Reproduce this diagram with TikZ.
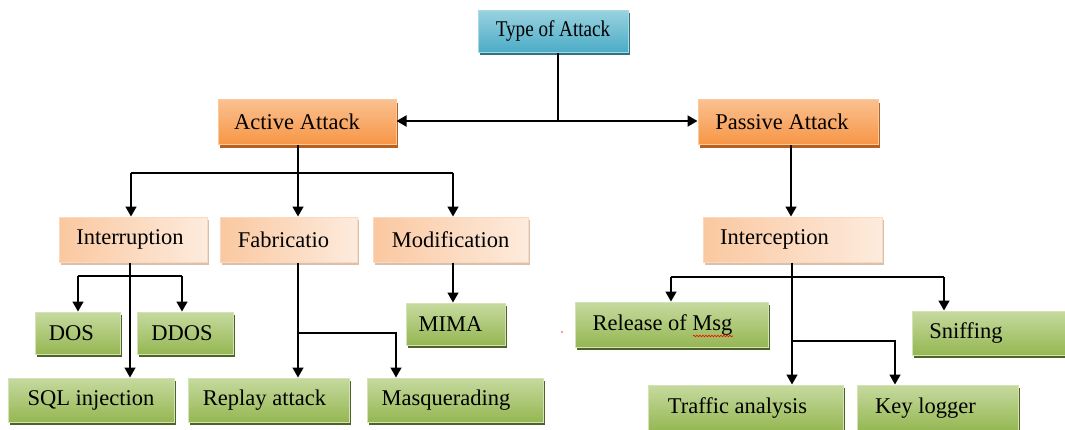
\documentclass[tikz,border=0pt]{standalone}
\usepackage{fontspec}
\setmainfont{Liberation Serif}
\usetikzlibrary{arrows.meta,shadows,decorations.pathmorphing}

\definecolor{tealtop}{HTML}{9AD2E0}
\definecolor{tealbot}{HTML}{4BACC6}
\definecolor{tealline}{HTML}{A9D8E4}
\definecolor{tealshadow}{HTML}{2E7385}
\definecolor{orgtop}{HTML}{FAC090}
\definecolor{orgbot}{HTML}{F79646}
\definecolor{orgline}{HTML}{FBC9A0}
\definecolor{orgshadow}{HTML}{B8601E}
\definecolor{peachA}{HTML}{FAC8A0}
\definecolor{peachB}{HTML}{FDEBDD}
\definecolor{peachline}{HTML}{FBD9BF}
\definecolor{peachshadow}{HTML}{D8C0AC}
\definecolor{grntop}{HTML}{C6DA9F}
\definecolor{grnbot}{HTML}{95B752}
\definecolor{grnline}{HTML}{D3E3B6}
\definecolor{grnshadow}{HTML}{4F6228}

\tikzset{
  box/.style={rectangle, inner sep=0pt, line width=1pt},
  tealbox/.style={box, top color=tealtop, bottom color=tealbot, draw=tealline,
    drop shadow={shadow xshift=1.5pt, shadow yshift=-3pt, fill=tealshadow, opacity=1}},
  orangebox/.style={box, top color=orgtop, bottom color=orgbot, draw=orgline,
    drop shadow={shadow xshift=1.5pt, shadow yshift=-3pt, fill=orgshadow, opacity=1}},
  peachbox/.style={box, left color=peachA, right color=peachB, draw=peachline,
    drop shadow={shadow xshift=2pt, shadow yshift=-3pt, fill=peachshadow, opacity=1}},
  greenbox/.style={box, top color=grntop, bottom color=grnbot, draw=grnline,
    drop shadow={shadow xshift=2pt, shadow yshift=-3pt, fill=grnshadow, opacity=1}},
  link/.style={line width=1.6pt, black},
  biglink/.style={line width=2pt, black},
  arr/.style={link, -{Triangle[length=10pt,width=11pt]}},
  bigarr/.style={biglink, -{Triangle[length=10pt,width=11pt]}},
}

\begin{document}
\begin{tikzpicture}[x=1pt, y=-1pt, font=\fontsize{22.5}{26}\selectfont]
\useasboundingbox (0,0) rectangle (1065,429);

% ---- root
\node[tealbox, minimum width=150pt, minimum height=42pt,
      label={center:\scalebox{0.85}[1]{Type of Attack}}] (top) at (553,31) {};

% ---- second level
\node[orangebox, minimum width=178pt, minimum height=45pt,
      label={[xshift=-10pt]center:Active Attack}] (act) at (307,122) {};
\node[orangebox, minimum width=180pt, minimum height=45pt,
      label={[xshift=-6pt]center:Passive Attack}] (pas) at (788,122) {};

% ---- third level
\node[peachbox, minimum width=148pt, minimum height=45pt,
      label={[xshift=-3pt]center:Interruption}] (intr) at (133,239.5) {};
\node[peachbox, minimum width=137pt, minimum height=45pt,
      label={[xshift=-5pt]center:Fabricatio}] (fab) at (288.5,239.5) {};
\node[peachbox, minimum width=155pt, minimum height=45pt,
      label={center:Modification}] (mod) at (450.5,239.5) {};
\node[peachbox, minimum width=179pt, minimum height=45pt,
      label={[xshift=-18pt]center:Interception}] (icp) at (792.5,239.5) {};

% ---- leaves, active side
\node[greenbox, minimum width=85pt, minimum height=42pt,
      label={[xshift=-6pt]center:DOS}] (dos) at (77.5,333) {};
\node[greenbox, minimum width=96pt, minimum height=42pt,
      label={[xshift=-3pt]center:DDOS}] (ddos) at (185,333) {};
\node[greenbox, minimum width=166pt, minimum height=44pt,
      label={center:SQL injection}] (sql) at (91,400) {};
\node[greenbox, minimum width=161pt, minimum height=44pt,
      label={[xshift=-4pt]center:Replay attack}] (rep) at (268.5,400) {};
\node[greenbox, minimum width=176pt, minimum height=44pt,
      label={[xshift=-9pt]center:Masquerading}] (mas) at (455,400) {};
\node[greenbox, minimum width=99pt, minimum height=42pt,
      label={[xshift=-5pt]center:MIMA}] (mima) at (455.5,324) {};

% ---- leaves, passive side
\node[greenbox, minimum width=193pt, minimum height=45pt,
      label={[xshift=-9pt]center:Release of Msg}] (rel) at (671.5,324.5) {};
\node[greenbox, minimum width=156pt, minimum height=44pt,
      label={[xshift=-24pt]center:Sniffing}] (snf) at (990,333) {};
\node[greenbox, minimum width=195pt, minimum height=46pt,
      label={[xshift=-8pt]center:Traffic analysis}] (trf) at (745.5,408) {};
\node[greenbox, minimum width=161pt, minimum height=46pt,
      label={[xshift=-12pt]center:Key logger}] (key) at (937.5,408) {};

% spell-check mark under "Msg" and stray dot
\draw[red, line width=0.6pt, decorate,
      decoration={snake, segment length=3pt, amplitude=0.8pt}]
      (693,336) -- (733,336);
\fill[red!80!white] (562,332) circle (0.8pt);

% ---- connectors: root
\coordinate (hub) at (558,121);
\draw[biglink] (top.south -| hub) -- (hub);
\draw[bigarr] (hub) -- (act.east |- hub);
\draw[bigarr] (hub) -- (pas.west |- hub);

% ---- connectors: active attack
\coordinate (ab) at (298,173);
\coordinate (abL) at (131,173);
\coordinate (abR) at (453,173);
\draw[link] (act.south -| ab) -- (ab);
\draw[arr] (abL) -- (abL |- intr.north);
\draw[arr] (ab) -- (ab |- fab.north);
\draw[arr] (abR) -- (abR |- mod.north);
\draw[link] (abL) -- (abR);

% interruption
\coordinate (ib) at (130,276);
\coordinate (ibL) at (78,276);
\coordinate (ibR) at (182,276);
\draw[arr] (intr.south -| ib) -- (ib |- sql.north);
\draw[link] (ibL) -- (ibR);
\draw[arr] (ibL) -- (ibL |- dos.north);
\draw[arr] (ibR) -- (ibR |- ddos.north);

% fabrication
\coordinate (fb) at (298,333);
\coordinate (fbR) at (396,333);
\draw[arr] (fab.south -| fb) -- (fb |- rep.north);
\draw[arr] (fb) -- (fbR) -- (fbR |- mas.north);

% modification
\coordinate (mb) at (453,262);
\draw[arr] (mod.south -| mb) -- (mb |- mima.north);

% ---- connectors: passive attack
\coordinate (pb) at (791,150);
\draw[arr] (pas.south -| pb) -- (pb |- icp.north);

\coordinate (cb) at (792,277);
\coordinate (cbL) at (671,277);
\coordinate (cbR) at (944,277);
\coordinate (kb) at (792,341);
\coordinate (kbR) at (895,341);
\draw[arr] (icp.south -| cb) -- (cb |- trf.north);
\draw[link] (cbL) -- (cbR);
\draw[arr] (cbL) -- (cbL |- rel.north);
\draw[arr] (cbR) -- (cbR |- snf.north);
\draw[arr] (kb) -- (kbR) -- (kbR |- key.north);
\end{tikzpicture}
\end{document}
